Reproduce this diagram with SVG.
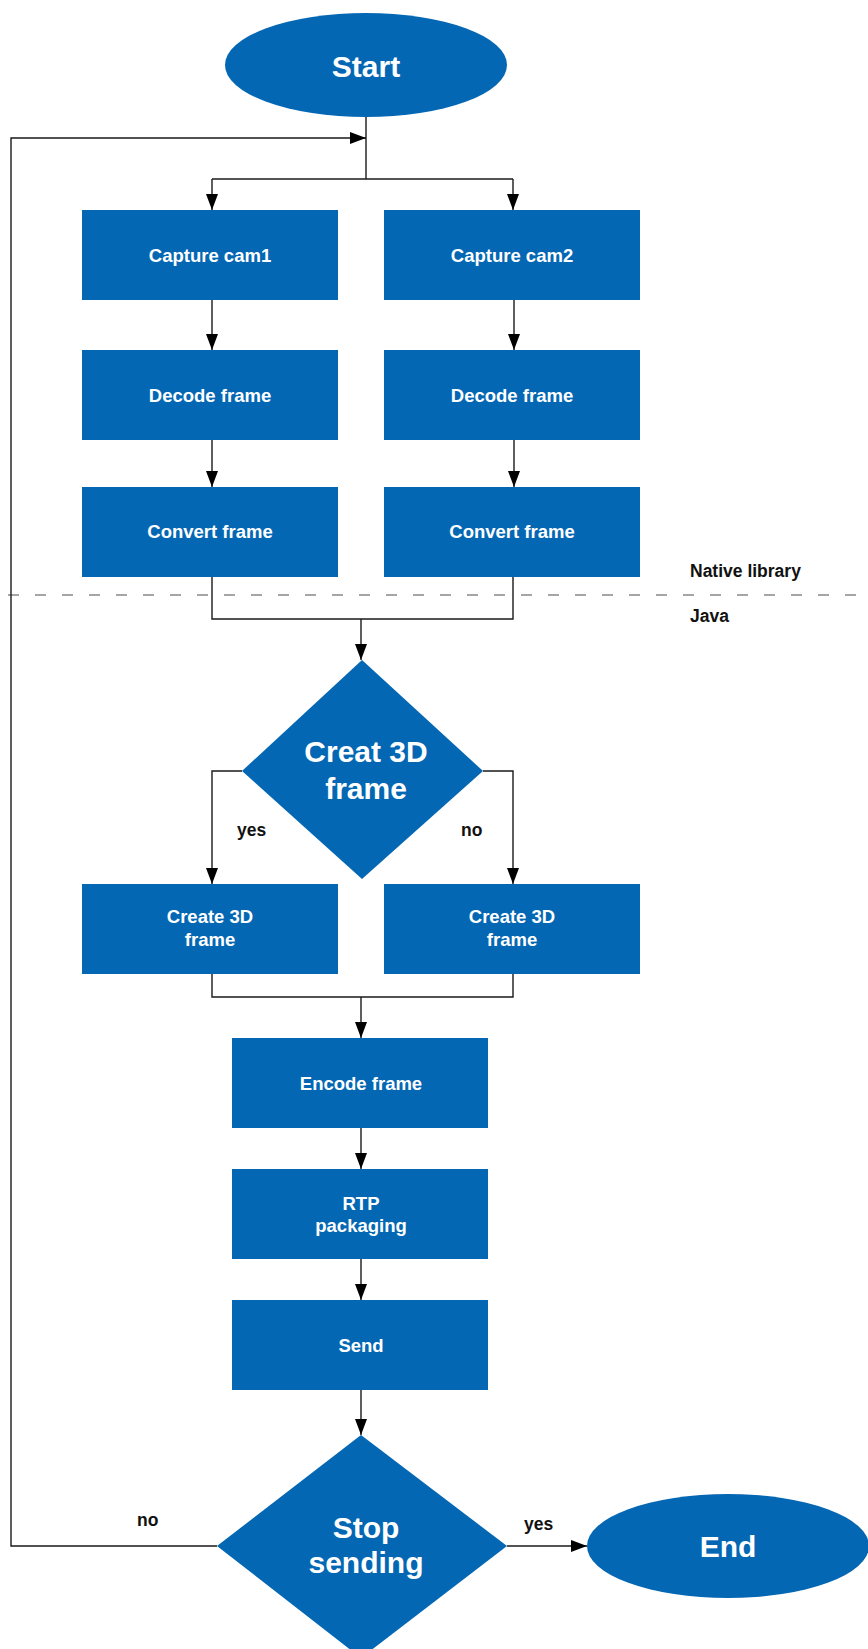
<svg xmlns="http://www.w3.org/2000/svg" width="868" height="1649" viewBox="0 0 868 1649">
<defs>
<marker id="arr" viewBox="0 0 16 12" refX="16" refY="6" markerWidth="16" markerHeight="12" markerUnits="userSpaceOnUse" orient="auto">
<path d="M0,0 L16,6 L0,12 Z" fill="#000"/>
</marker>
<style>
.box{fill:#0467B4}
.t{font-family:"Liberation Sans",Arial,sans-serif;font-weight:bold;fill:#fff;text-anchor:middle}
.bt{font-size:18.5px}
.big{font-size:30px}
.lbl{font-family:"Liberation Sans",Arial,sans-serif;font-weight:bold;font-size:17.5px;fill:#111}
.c{fill:none;stroke:#1a1a1a;stroke-width:1.4}
</style>
</defs>
<rect width="868" height="1649" fill="#fff"/>
<line x1="8" y1="595" x2="868" y2="595" stroke="#888" stroke-width="1.3" stroke-dasharray="11 16"/>
<text class="lbl" x="690" y="577">Native library</text>
<text class="lbl" x="690" y="622">Java</text>
<g id="connectors">
<path class="c" d="M366,117 V179"/>
<path class="c" d="M212,179 H513"/>
<path class="c" d="M212,179 V210" marker-end="url(#arr)"/>
<path class="c" d="M513,179 V210" marker-end="url(#arr)"/>
<path class="c" d="M212,300 V350" marker-end="url(#arr)"/>
<path class="c" d="M514,300 V350" marker-end="url(#arr)"/>
<path class="c" d="M212,440 V487" marker-end="url(#arr)"/>
<path class="c" d="M514,440 V487" marker-end="url(#arr)"/>
<path class="c" d="M212,577 V619 H513 V577"/>
<path class="c" d="M361,619 V660" marker-end="url(#arr)"/>
<path class="c" d="M242,771 H212 V884" marker-end="url(#arr)"/>
<path class="c" d="M483,771 H513 V884" marker-end="url(#arr)"/>
<path class="c" d="M212,974 V997 H513 V974"/>
<path class="c" d="M361,997 V1038" marker-end="url(#arr)"/>
<path class="c" d="M361,1128 V1169" marker-end="url(#arr)"/>
<path class="c" d="M361,1259 V1300" marker-end="url(#arr)"/>
<path class="c" d="M361,1390 V1435" marker-end="url(#arr)"/>
<path class="c" d="M217,1546 H11 V138 H366" marker-end="url(#arr)"/>
<path class="c" d="M507,1546 H587" marker-end="url(#arr)"/>
</g>
<text class="lbl" x="237" y="836">yes</text>
<text class="lbl" x="461" y="836">no</text>
<text class="lbl" x="137" y="1526">no</text>
<text class="lbl" x="524" y="1530">yes</text>
<g id="start"><ellipse class="box" cx="366" cy="65" rx="141" ry="52"/><text class="t big" x="366" y="77">Start</text></g>
<g id="capture1"><rect class="box" x="82" y="210" width="256" height="90"/><text class="t bt" x="210" y="262">Capture cam1</text></g>
<g id="capture2"><rect class="box" x="384" y="210" width="256" height="90"/><text class="t bt" x="512" y="262">Capture cam2</text></g>
<g id="decode1"><rect class="box" x="82" y="350" width="256" height="90"/><text class="t bt" x="210" y="402">Decode frame</text></g>
<g id="decode2"><rect class="box" x="384" y="350" width="256" height="90"/><text class="t bt" x="512" y="402">Decode frame</text></g>
<g id="convert1"><rect class="box" x="82" y="487" width="256" height="90"/><text class="t bt" x="210" y="538">Convert frame</text></g>
<g id="convert2"><rect class="box" x="384" y="487" width="256" height="90"/><text class="t bt" x="512" y="538">Convert frame</text></g>
<g id="decision3d"><polygon class="box" points="362,660 483,771 362,879 242,771"/><text class="t big" x="366" y="762">Creat 3D</text><text class="t big" x="366" y="799">frame</text></g>
<g id="create1"><rect class="box" x="82" y="884" width="256" height="90"/><text class="t bt" x="210" y="923">Create 3D</text><text class="t bt" x="210" y="946">frame</text></g>
<g id="create2"><rect class="box" x="384" y="884" width="256" height="90"/><text class="t bt" x="512" y="923">Create 3D</text><text class="t bt" x="512" y="946">frame</text></g>
<g id="encode"><rect class="box" x="232" y="1038" width="256" height="90"/><text class="t bt" x="361" y="1090">Encode frame</text></g>
<g id="rtp"><rect class="box" x="232" y="1169" width="256" height="90"/><text class="t bt" x="361" y="1210">RTP</text><text class="t bt" x="361" y="1232">packaging</text></g>
<g id="send"><rect class="box" x="232" y="1300" width="256" height="90"/><text class="t bt" x="361" y="1352">Send</text></g>
<g id="stop"><polygon class="box" points="361,1435 507,1546 361,1658 217,1546"/><text class="t big" x="366" y="1538">Stop</text><text class="t big" x="366" y="1573">sending</text></g>
<g id="end"><ellipse class="box" cx="728" cy="1546" rx="141" ry="52"/><text class="t big" x="728" y="1557">End</text></g>
</svg>
